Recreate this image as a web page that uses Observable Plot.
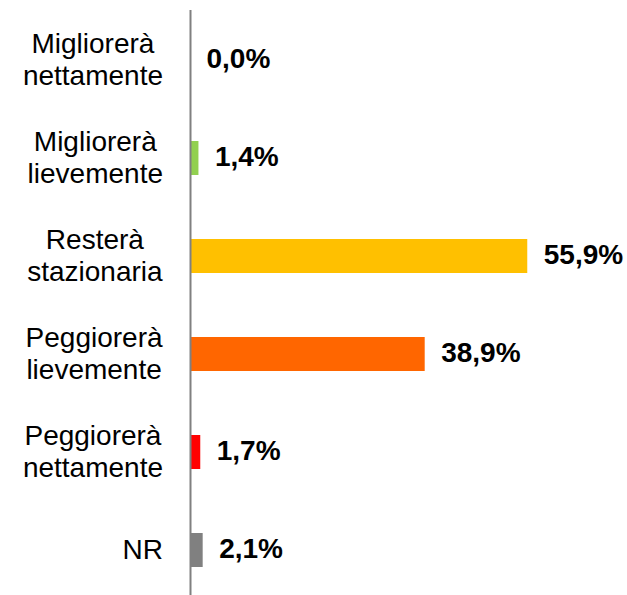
<!DOCTYPE html>
<html>
<head>
<meta charset="utf-8">
<script src="https://cdn.jsdelivr.net/npm/d3@7"></script>
<script src="https://cdn.jsdelivr.net/npm/@observablehq/plot@0.6"></script>
<style>
  html, body { margin: 0; padding: 0; background: #fff; }
  #chart svg { display: block; }
</style>
</head>
<body>
<div id="chart"></div>
<script>
const categories = [
  "Migliorerà\nnettamente",
  "Migliorerà\nlievemente",
  "Resterà\nstazionaria",
  "Peggiorerà\nlievemente",
  "Peggiorerà\nnettamente",
  "NR"
];
const values = [0.0, 1.4, 55.9, 38.9, 1.7, 2.1];
const colors = ["#92D050", "#92D050", "#FFC000", "#FF6600", "#FF0000", "#808080"];

const data = categories.map((c, i) => ({ cat: c, value: values[i], color: colors[i] }));
const fmt = v => v.toFixed(1).replace(".", ",") + "%";

const chart = Plot.plot({
  width: 627,
  height: 600,
  marginTop: 10,
  marginBottom: 0,
  marginLeft: 190,
  marginRight: 75,
  style: { fontFamily: "'Liberation Sans', Arial, sans-serif", background: "#fff" },
  x: { domain: [0, 60], axis: null },
  y: { domain: categories, axis: null, paddingInner: 0.654, paddingOuter: 0.327 },
  marks: [
    Plot.barX(data, { y: "cat", x: "value", fill: "color" }),
    Plot.ruleX([0], { stroke: "#808080", strokeWidth: 2 }),
    Plot.text(data, {
      y: "cat", x: 0, text: "cat", textAnchor: "middle", dx: -96, dy: -2,
      lineAnchor: "middle", lineHeight: 1.14, fontSize: 28, fill: "#000",
      className: "catlabel"
    }),
    Plot.text(data, {
      y: "cat", x: "value", text: d => fmt(d.value), textAnchor: "start", dx: 16, dy: -1,
      fontSize: 28, fontWeight: "bold", fill: "#000"
    })
  ]
});
document.getElementById("chart").appendChild(chart);

// Right-align each centered multi-line label block at the same edge
const rightEdge = 163;
const svgLeft = chart.getBoundingClientRect().left;
chart.querySelectorAll("g.catlabel text").forEach(t => {
  const right = t.getBoundingClientRect().right - svgLeft;
  const shift = rightEdge - right;
  const prev = t.getAttribute("transform") || "";
  t.setAttribute("transform", prev + ` translate(${shift},0)`);
});
</script>
</body>
</html>
